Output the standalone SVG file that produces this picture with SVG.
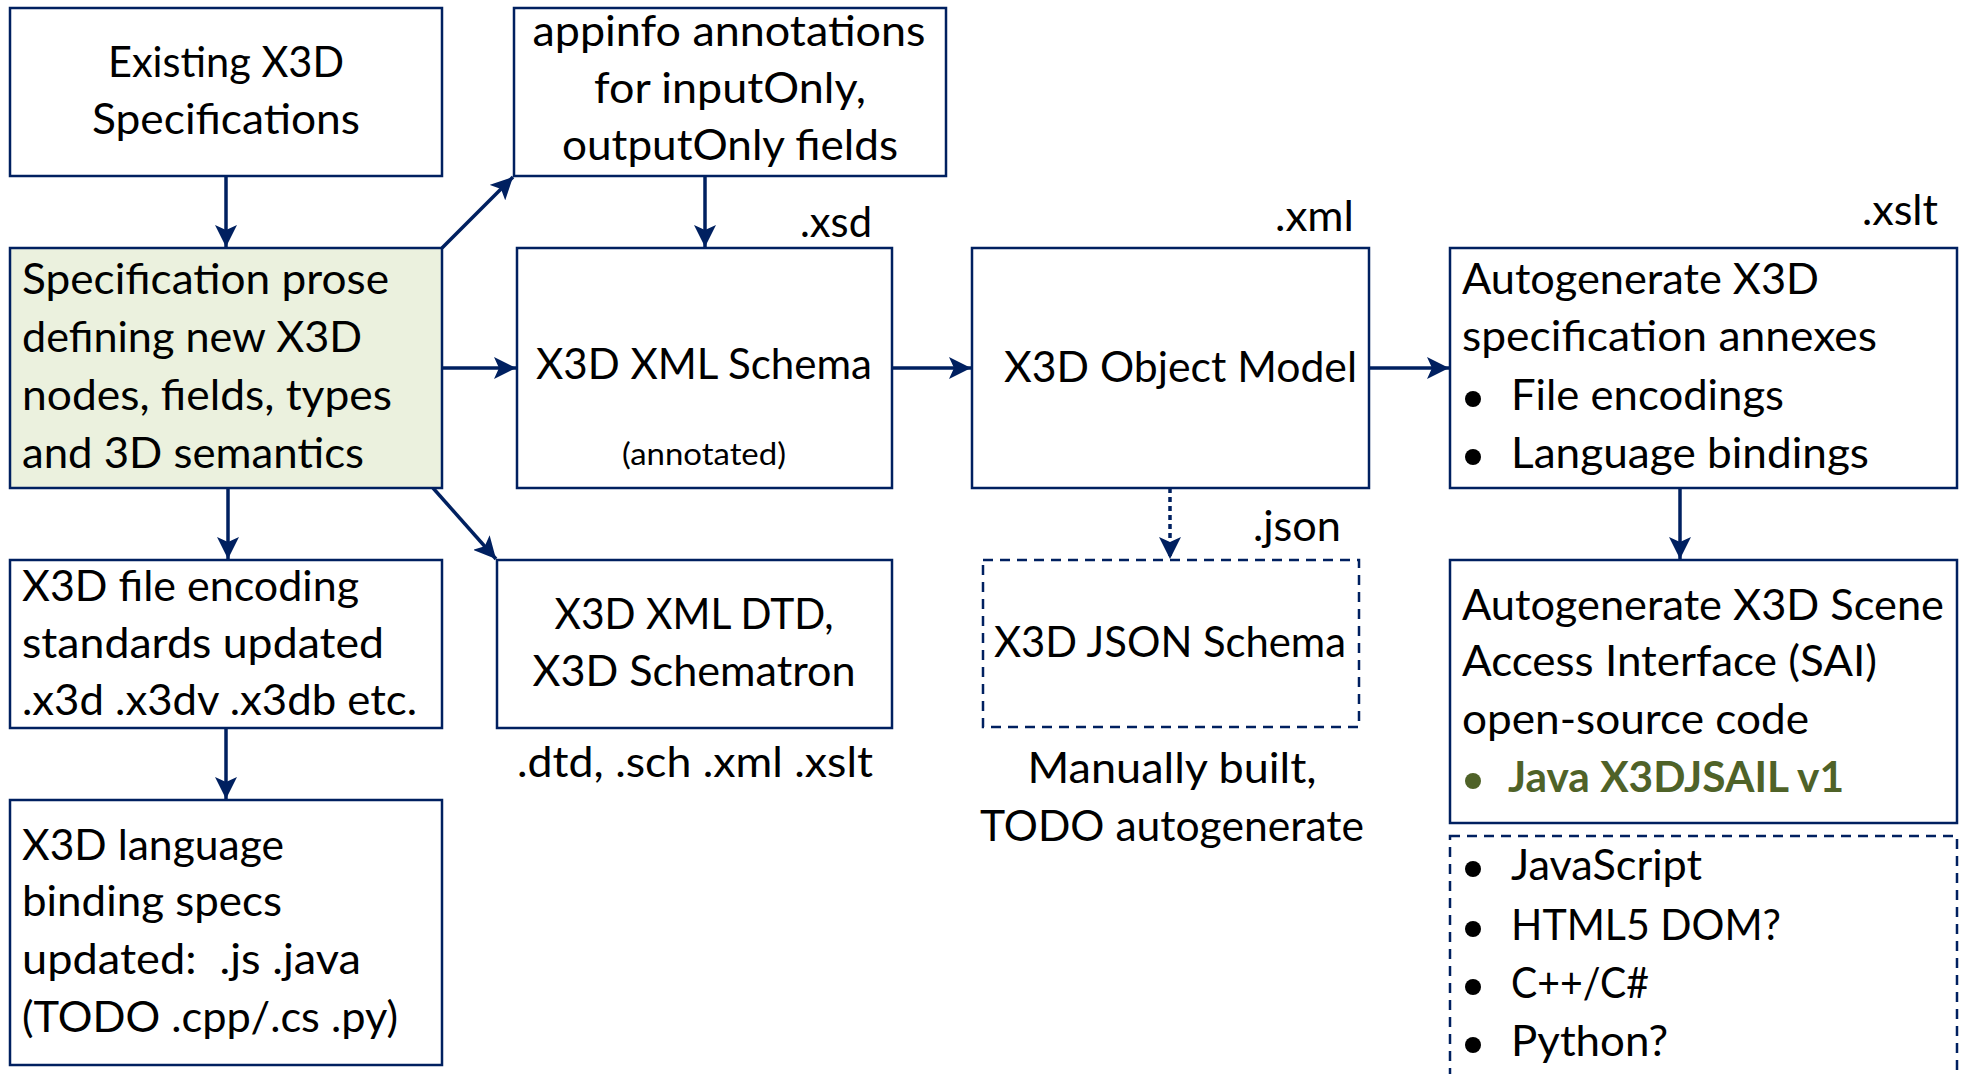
<svg xmlns="http://www.w3.org/2000/svg" width="1965" height="1074" viewBox="0 0 1965 1074">
<style>
.box{fill:#fff;stroke:#002060;stroke-width:2.5}
.green{fill:#EBF1DE}
.dash{stroke-dasharray:10 7}
.t{font-family:Lato,"Liberation Sans",sans-serif;font-size:42px;fill:#000}
.c{text-anchor:middle}
.sm{font-size:30px}
.bul{fill:#000}
.g{fill:#4F6228;font-weight:bold}
.gb{fill:#4F6228}
.ar{stroke:#002060;stroke-width:3.5;fill:none;marker-end:url(#ah)}
.dot{stroke-dasharray:5 4}
</style>
<defs>
<marker id="ah" markerUnits="userSpaceOnUse" viewBox="0 0 22 22" markerWidth="22" markerHeight="22" refX="22" refY="11" orient="auto">
<path d="M0,0 L22,11 L0,22 L5,11 z" fill="#002060"/>
</marker>
</defs>
<rect width="1965" height="1074" fill="#fff"/>

<g id="connectors">
<line class="ar" x1="226" y1="176" x2="226" y2="247"/>
<line class="ar" x1="442" y1="248" x2="513" y2="177"/>
<line class="ar" x1="705" y1="176" x2="705" y2="247"/>
<line class="ar" x1="442" y1="368" x2="516" y2="368"/>
<line class="ar" x1="892" y1="368" x2="971" y2="368"/>
<line class="ar" x1="1369" y1="368" x2="1449" y2="368"/>
<line class="ar" x1="228" y1="488" x2="228" y2="559"/>
<line class="ar" x1="433" y1="488" x2="496" y2="559"/>
<line class="ar" x1="226" y1="728" x2="226" y2="799"/>
<line class="ar dot" x1="1170" y1="488" x2="1170" y2="559"/>
<line class="ar" x1="1680" y1="488" x2="1680" y2="559"/>
</g>

<g id="existing">
<rect class="box" x="10" y="8" width="432" height="168"/>
<text class="t c" x="226" y="77" textLength="236" lengthAdjust="spacingAndGlyphs">Existing X3D</text>
<text class="t c" x="226" y="134" textLength="268" lengthAdjust="spacingAndGlyphs">Specifications</text>
</g>

<g id="appinfo">
<rect class="box" x="514" y="8" width="432" height="168"/>
<text class="t c" x="729" y="46" textLength="393" lengthAdjust="spacingAndGlyphs">appinfo annotations</text>
<text class="t c" x="730" y="103" textLength="272" lengthAdjust="spacingAndGlyphs">for inputOnly,</text>
<text class="t c" x="730" y="160" textLength="336" lengthAdjust="spacingAndGlyphs">outputOnly fields</text>
</g>

<g id="spec">
<rect class="box green" x="10" y="248" width="432" height="240"/>
<text class="t" x="22" y="294" textLength="367" lengthAdjust="spacingAndGlyphs">Specification prose</text>
<text class="t" x="22" y="352" textLength="340" lengthAdjust="spacingAndGlyphs">defining new X3D</text>
<text class="t" x="22" y="410" textLength="370" lengthAdjust="spacingAndGlyphs">nodes, fields, types</text>
<text class="t" x="22" y="468" textLength="342" lengthAdjust="spacingAndGlyphs">and 3D semantics</text>
</g>

<g id="schema">
<rect class="box" x="517" y="248" width="375" height="240"/>
<text class="t" x="800" y="237" textLength="72" lengthAdjust="spacingAndGlyphs">.xsd</text>
<text class="t c" x="704" y="379" textLength="336" lengthAdjust="spacingAndGlyphs">X3D XML Schema</text>
<text class="t c sm" x="704" y="465" textLength="164" lengthAdjust="spacingAndGlyphs">(annotated)</text>
</g>

<g id="objectmodel">
<rect class="box" x="972" y="248" width="397" height="240"/>
<text class="t" x="1275" y="231" textLength="79" lengthAdjust="spacingAndGlyphs">.xml</text>
<text class="t" x="1004" y="382" textLength="353" lengthAdjust="spacingAndGlyphs">X3D Object Model</text>
</g>

<g id="annexes">
<rect class="box" x="1450" y="248" width="507" height="240"/>
<text class="t" x="1862" y="225" textLength="76" lengthAdjust="spacingAndGlyphs">.xslt</text>
<text class="t" x="1462" y="294" textLength="357" lengthAdjust="spacingAndGlyphs">Autogenerate X3D</text>
<text class="t" x="1462" y="351" textLength="415" lengthAdjust="spacingAndGlyphs">specification annexes</text>
<circle class="bul" cx="1473" cy="399" r="8"/>
<text class="t" x="1511" y="410" textLength="273" lengthAdjust="spacingAndGlyphs">File encodings</text>
<circle class="bul" cx="1473" cy="457" r="8"/>
<text class="t" x="1511" y="468" textLength="358" lengthAdjust="spacingAndGlyphs">Language bindings</text>
</g>

<g id="fileenc">
<rect class="box" x="10" y="560" width="432" height="168"/>
<text class="t" x="22" y="601" textLength="337" lengthAdjust="spacingAndGlyphs">X3D file encoding</text>
<text class="t" x="22" y="658" textLength="362" lengthAdjust="spacingAndGlyphs">standards updated</text>
<text class="t" x="22" y="715" textLength="395" lengthAdjust="spacingAndGlyphs">.x3d .x3dv .x3db etc.</text>
</g>

<g id="dtd">
<rect class="box" x="497" y="560" width="395" height="168"/>
<text class="t c" x="694" y="629" textLength="279" lengthAdjust="spacingAndGlyphs">X3D XML DTD,</text>
<text class="t c" x="694" y="686" textLength="323" lengthAdjust="spacingAndGlyphs">X3D Schematron</text>
<text class="t c" x="695" y="777" textLength="356" lengthAdjust="spacingAndGlyphs">.dtd, .sch .xml .xslt</text>
</g>

<g id="json">
<text class="t" x="1253" y="541" textLength="88" lengthAdjust="spacingAndGlyphs">.json</text>
<rect class="box dash" x="983" y="560" width="376" height="167"/>
<text class="t c" x="1170" y="657" textLength="352" lengthAdjust="spacingAndGlyphs">X3D JSON Schema</text>
<text class="t c" x="1172" y="783" textLength="289" lengthAdjust="spacingAndGlyphs">Manually built,</text>
<text class="t c" x="1172" y="841" textLength="384" lengthAdjust="spacingAndGlyphs">TODO autogenerate</text>
</g>

<g id="langbinding">
<rect class="box" x="10" y="800" width="432" height="265"/>
<text class="t" x="22" y="860" textLength="262" lengthAdjust="spacingAndGlyphs">X3D language</text>
<text class="t" x="22" y="916" textLength="260" lengthAdjust="spacingAndGlyphs">binding specs</text>
<text class="t" x="22" y="974" textLength="339" lengthAdjust="spacingAndGlyphs" xml:space="preserve">updated:  .js .java</text>
<text class="t" x="22" y="1032" textLength="376" lengthAdjust="spacingAndGlyphs">(TODO .cpp/.cs .py)</text>
</g>

<g id="sai">
<rect class="box" x="1450" y="560" width="507" height="263"/>
<text class="t" x="1462" y="620" textLength="482" lengthAdjust="spacingAndGlyphs">Autogenerate X3D Scene</text>
<text class="t" x="1462" y="676" textLength="415" lengthAdjust="spacingAndGlyphs">Access Interface (SAI)</text>
<text class="t" x="1462" y="734" textLength="347" lengthAdjust="spacingAndGlyphs">open-source code</text>
<circle class="gb" cx="1473" cy="781" r="8"/>
<text class="t g" x="1508" y="792" textLength="336" lengthAdjust="spacingAndGlyphs">Java X3DJSAIL v1</text>
</g>

<g id="otherlangs">
<rect class="box dash" x="1450" y="836" width="507" height="260"/>
<circle class="bul" cx="1473" cy="869" r="8"/>
<text class="t" x="1511" y="880" textLength="191" lengthAdjust="spacingAndGlyphs">JavaScript</text>
<circle class="bul" cx="1473" cy="929" r="8"/>
<text class="t" x="1511" y="940" textLength="270" lengthAdjust="spacingAndGlyphs">HTML5 DOM?</text>
<circle class="bul" cx="1473" cy="987" r="8"/>
<text class="t" x="1511" y="998" textLength="138" lengthAdjust="spacingAndGlyphs">C++/C#</text>
<circle class="bul" cx="1473" cy="1045" r="8"/>
<text class="t" x="1511" y="1056" textLength="157" lengthAdjust="spacingAndGlyphs">Python?</text>
</g>
</svg>
